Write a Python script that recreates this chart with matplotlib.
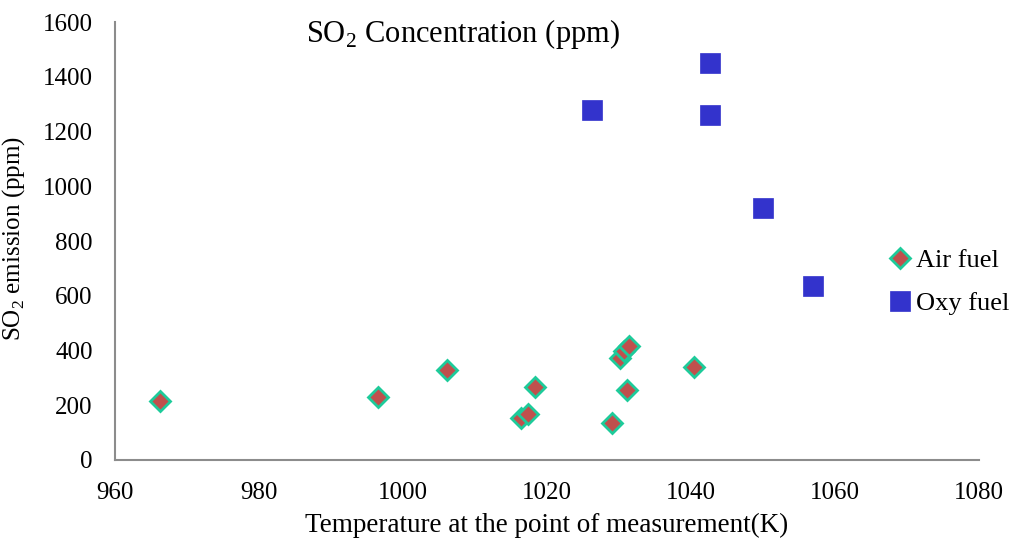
import matplotlib.pyplot as plt

# Air fuel points (temperature K, SO2 ppm)
air_temp = [966.3, 996.5, 1006.1, 1016.4, 1017.4, 1018.4, 1029.0, 1030.1, 1030.7, 1031.4, 1031.1, 1040.4]
air_so2 = [215, 230, 328, 153, 168, 266, 135, 372, 397, 415, 255, 339]

# Oxy fuel points
oxy_temp = [1026.2, 1042.6, 1042.6, 1050.0, 1056.9]
oxy_so2 = [1279, 1451, 1261, 922, 634]

x_ticks = [960, 980, 1000, 1020, 1040, 1060, 1080]
y_ticks = [0, 200, 400, 600, 800, 1000, 1200, 1400, 1600]

plt.rcParams["font.family"] = ["Liberation Serif", "DejaVu Serif"]
plt.rcParams["mathtext.fontset"] = "custom"
plt.rcParams["mathtext.rm"] = "Liberation Serif"

fig = plt.figure(figsize=(10.13, 5.42), dpi=100)
ax = fig.add_axes([0.1135, 0.1513, 0.853, 0.808])

ax.plot(air_temp, air_so2, linestyle="none", marker="D", markersize=10,
        markerfacecolor="#C0504D", markeredgecolor="#1DCB9A", markeredgewidth=2,
        label="Air fuel")
ax.plot(oxy_temp, oxy_so2, linestyle="none", marker="s", markersize=14,
        markerfacecolor="#3333CC", markeredgecolor="#3333CC", markeredgewidth=0.5,
        label="Oxy fuel")

ax.set_xlim(960, 1080)
ax.set_ylim(0, 1600)
ax.set_xticks(x_ticks)
ax.set_yticks(y_ticks)
ax.tick_params(length=0, labelsize=18, pad=16)

for side in ["top", "right"]:
    ax.spines[side].set_visible(False)
for side in ["left", "bottom"]:
    ax.spines[side].set_color("#8c8c8c")
    ax.spines[side].set_linewidth(1.5)

ax.set_xlabel("Temperature at the point of measurement(K)", fontsize=19.5, labelpad=6)
ax.set_ylabel(r"SO$_2$ emission (ppm)", fontsize=18)
ax.yaxis.set_label_coords(-0.102, 0.505)
ax.text(0.403, 1.012, r"SO$_2$ Concentration (ppm)", transform=ax.transAxes,
        fontsize=22, ha="center", va="top")

fig.legend(loc="center left", bbox_to_anchor=(0.852, 0.4797), frameon=False,
           fontsize=19, handletextpad=0.1, labelspacing=0.75, handlelength=1.0)

fig.savefig("out.png", dpi=100)
